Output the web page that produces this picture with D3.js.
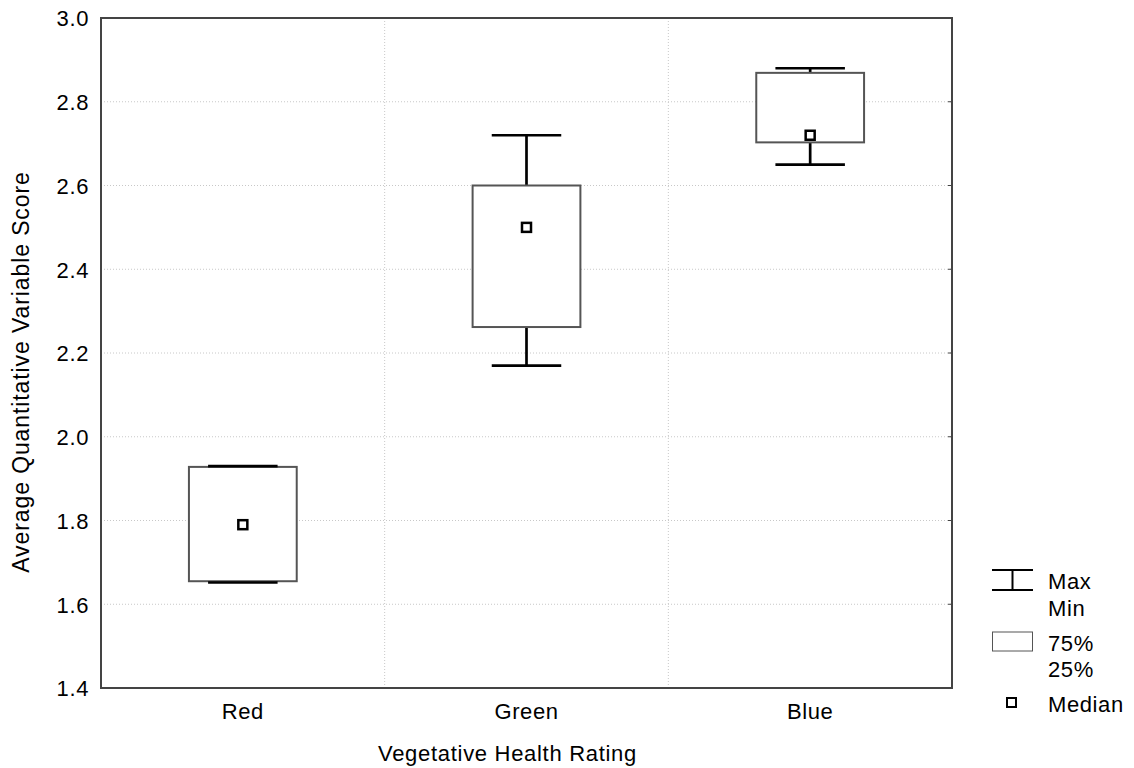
<!DOCTYPE html>
<html>
<head>
<meta charset="utf-8">
<script src="https://cdn.jsdelivr.net/npm/d3@7"></script>
<style>
  body { margin: 0; background: #fff; }
  svg text { font-family: 'Liberation Sans', Arial, sans-serif; fill: #000; font-size: 22px; letter-spacing: 0.6px; }
</style>
</head>
<body>
<div id="chart"></div>
<script>
var categories = ['Red', 'Green', 'Blue'];
var minValues = [1.652, 2.17, 2.65];
var q1Values = [1.655, 2.262, 2.703];
var medianValues = [1.79, 2.50, 2.72];
var q3Values = [1.928, 2.60, 2.869];
var maxValues = [1.93, 2.72, 2.88];
var yTicks = [1.4, 1.6, 1.8, 2.0, 2.2, 2.4, 2.6, 2.8, 3.0];

var margin = {top: 18, right: 182, bottom: 80, left: 101};
var width = 1134 - margin.left - margin.right;
var height = 768 - margin.top - margin.bottom;

var svg = d3.select('#chart')
  .append('svg')
  .attr('width', 1134)
  .attr('height', 768)
  .append('g')
  .attr('transform', 'translate(' + margin.left + ',' + margin.top + ')');

var x = d3.scaleBand().domain(categories).range([0, width]);
var y = d3.scaleLinear().domain([1.4, 3.0]).range([height, 0]);

var boxWidth = x.bandwidth() * 0.38;
var capWidth = x.bandwidth() * 0.245;

// grid lines
svg.append('g')
  .selectAll('line')
  .data(yTicks.slice(1, -1))
  .enter()
  .append('line')
  .attr('x1', 0).attr('x2', width)
  .attr('y1', (d) => y(d)).attr('y2', (d) => y(d))
  .style('stroke', '#c8c8c8')
  .style('stroke-dasharray', '1,2');

svg.append('g')
  .selectAll('line')
  .data(categories.slice(1))
  .enter()
  .append('line')
  .attr('x1', (d) => x(d)).attr('x2', (d) => x(d))
  .attr('y1', 0).attr('y2', height)
  .style('stroke', '#c8c8c8')
  .style('stroke-dasharray', '1,2');

// y axis
var yAxis = d3.axisLeft(y).tickValues(yTicks).tickFormat(d3.format('.1f')).tickSize(0).tickPadding(12);
svg.append('g').call(yAxis)
  .call((g) => g.select('.domain').remove())
  .selectAll('text')
  .style('font-size', '22px')
  .attr('dy', '0.36em');

// x axis labels
var xAxis = d3.axisBottom(x).tickSize(0).tickPadding(15);
svg.append('g')
  .attr('transform', 'translate(0,' + height + ')')
  .call(xAxis)
  .call((g) => g.select('.domain').remove())
  .selectAll('text')
  .style('font-size', '22px');

// small inside ticks on the right
svg.append('g')
  .selectAll('line')
  .data(yTicks.slice(1, -1))
  .enter()
  .append('line')
  .attr('x1', width - 4).attr('x2', width)
  .attr('y1', (d) => y(d)).attr('y2', (d) => y(d))
  .style('stroke', '#444');

// boxes
var boxes = svg.append('g')
  .selectAll('g')
  .data(categories)
  .enter()
  .append('g')
  .attr('transform', (d) => 'translate(' + (x(d) + x.bandwidth() / 2) + ',0)');

// whisker stems
boxes.append('line')
  .attr('x1', 0).attr('x2', 0)
  .attr('y1', (d, i) => y(maxValues[i])).attr('y2', (d, i) => y(q3Values[i]))
  .style('stroke', '#000').style('stroke-width', 2.7);
boxes.append('line')
  .attr('x1', 0).attr('x2', 0)
  .attr('y1', (d, i) => y(q1Values[i])).attr('y2', (d, i) => y(minValues[i]))
  .style('stroke', '#000').style('stroke-width', 2.7);

boxes.append('rect')
  .attr('x', -boxWidth / 2)
  .attr('width', boxWidth)
  .attr('y', (d, i) => y(q3Values[i]))
  .attr('height', (d, i) => y(q1Values[i]) - y(q3Values[i]))
  .style('fill', '#fff')
  .style('stroke', '#555')
  .style('stroke-width', 2);

// caps
boxes.append('line')
  .attr('x1', -capWidth / 2).attr('x2', capWidth / 2)
  .attr('y1', (d, i) => y(maxValues[i])).attr('y2', (d, i) => y(maxValues[i]))
  .style('stroke', '#000').style('stroke-width', 2.7);
boxes.append('line')
  .attr('x1', -capWidth / 2).attr('x2', capWidth / 2)
  .attr('y1', (d, i) => y(minValues[i])).attr('y2', (d, i) => y(minValues[i]))
  .style('stroke', '#000').style('stroke-width', 2.7);

// medians
boxes.append('rect')
  .attr('x', -4.5).attr('width', 9)
  .attr('y', (d, i) => y(medianValues[i]) - 4.5).attr('height', 9)
  .style('fill', '#fff')
  .style('stroke', '#000')
  .style('stroke-width', 2.5);

// frame
svg.append('rect')
  .attr('width', width).attr('height', height)
  .style('fill', 'none')
  .style('stroke', '#444')
  .style('stroke-width', 2);

// axis titles
svg.append('text')
  .attr('x', width / 2 - 19)
  .attr('y', height + 73)
  .attr('text-anchor', 'middle')
  .style('letter-spacing', '0.7px')
  .text('Vegetative Health Rating');

svg.append('text')
  .attr('transform', 'translate(-72,' + (height / 2 + 19) + ') rotate(-90)')
  .attr('text-anchor', 'middle')
  .style('font-size', '23px')
  .style('letter-spacing', '0.9px')
  .text('Average Quantitative Variable Score');

// legend
var legend = svg.append('g').attr('transform', 'translate(' + (width + 40) + ',0)');
legend.append('line').attr('x1', 0).attr('x2', 41).attr('y1', 552).attr('y2', 552).style('stroke', '#000').style('stroke-width', 2);
legend.append('line').attr('x1', 0).attr('x2', 41).attr('y1', 572).attr('y2', 572).style('stroke', '#000').style('stroke-width', 2);
legend.append('line').attr('x1', 20.5).attr('x2', 20.5).attr('y1', 552).attr('y2', 572).style('stroke', '#000').style('stroke-width', 2);
legend.append('text').attr('x', 56).attr('y', 571).text('Max');
legend.append('text').attr('x', 56).attr('y', 598).text('Min');
legend.append('rect').attr('x', 0.5).attr('y', 614).attr('width', 40).attr('height', 19)
  .style('fill', '#fff').style('stroke', '#555').style('stroke-width', 1);
legend.append('text').attr('x', 56).attr('y', 633).text('75%');
legend.append('text').attr('x', 56).attr('y', 659).text('25%');
legend.append('rect').attr('x', 15).attr('y', 680).attr('width', 9).attr('height', 9)
  .style('fill', '#fff').style('stroke', '#000').style('stroke-width', 2);
legend.append('text').attr('x', 56).attr('y', 694).text('Median');
</script>
</body>
</html>
